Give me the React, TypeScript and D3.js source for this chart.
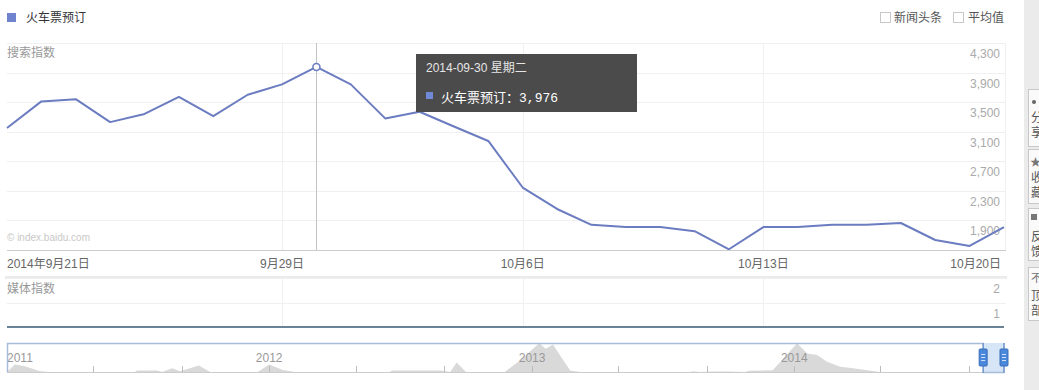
import React, { useEffect } from 'react';
import * as d3 from 'd3';

// 火车票预订 search index, daily
const seriesName = '火车票预订';
const dates = [
  '2014-09-21', '2014-09-22', '2014-09-23', '2014-09-24', '2014-09-25', '2014-09-26',
  '2014-09-27', '2014-09-28', '2014-09-29', '2014-09-30', '2014-10-01', '2014-10-02',
  '2014-10-03', '2014-10-04', '2014-10-05', '2014-10-06', '2014-10-07', '2014-10-08',
  '2014-10-09', '2014-10-10', '2014-10-11', '2014-10-12', '2014-10-13', '2014-10-14',
  '2014-10-15', '2014-10-16', '2014-10-17', '2014-10-18', '2014-10-19', '2014-10-20',
];
const searchValues = [
  3150, 3510, 3540, 3230, 3340, 3570, 3310, 3600, 3740, 3976,
  3740, 3280, 3370, 3170, 2975, 2345, 2055, 1840, 1810, 1810,
  1755, 1510, 1810, 1810, 1840, 1840, 1865, 1635, 1555, 1810,
];
const mediaValues = [
  0, 0, 0, 0, 0, 0, 0, 0, 0, 0, 0, 0, 0, 0, 0,
  0, 0, 0, 0, 0, 0, 0, 0, 0, 0, 0, 0, 0, 0, 0,
];
const searchTicks = [1900, 2300, 2700, 3100, 3500, 3900, 4300];
const mediaTicks = [1, 2];
const xTickDates = ['2014-09-21', '2014-09-29', '2014-10-06', '2014-10-13', '2014-10-20'];
const xTickLabels = ['2014年9月21日', '9月29日', '10月6日', '10月13日', '10月20日'];
const hoverIndex = 9;
const weekdays = ['星期日', '星期一', '星期二', '星期三', '星期四', '星期五', '星期六'];

// navigator (whole history), height in % of the strip
const navDates = [
  '2011-01-01', '2011-01-12', '2011-01-26', '2011-02-16', '2011-03-02', '2011-06-28',
  '2011-07-01', '2011-07-29', '2011-08-05', '2011-08-19', '2011-08-30', '2011-09-25',
  '2011-10-11', '2011-12-16', '2012-01-01', '2012-01-20', '2012-02-06', '2012-06-17',
  '2012-06-20', '2012-08-26', '2012-09-09', '2012-09-18', '2012-10-01', '2012-11-24',
  '2012-12-15', '2013-01-11', '2013-01-20', '2013-01-30', '2013-02-23', '2013-03-09',
  '2013-08-09', '2013-08-13', '2013-08-23', '2013-09-08', '2013-10-03', '2013-10-24',
  '2013-10-31', '2013-12-02', '2014-01-05', '2014-01-19', '2014-02-02', '2014-02-15',
  '2014-03-06', '2014-03-24', '2014-04-30', '2014-10-20',
];
const navValues = [
  0, 26, 20, 3, 0, 0,
  5, 5, 0, 13, 3, 22,
  0, 0, 26, 7, 0, 0,
  5, 5, 0, 33, 0, 0,
  40, 99, 80, 95, 5, 0,
  0, 3, 0, 2, 2, 0,
  4, 6, 99, 64, 59, 36,
  18, 13, 0, 0,
];
const navYears = ['2011', '2012', '2013', '2014'];
const sideLabels = [['分', '享'], ['收', '藏'], ['反', '馈'], ['顶', '部']];

const FONT = "'Liberation Sans', 'Noto Sans CJK SC', sans-serif";
const CJK = "'Noto Sans CJK SC', sans-serif";
const LINE = '#6b7cc0';

const parse = d3.timeParse('%Y-%m-%d');

const App = () => {
  useEffect(() => {
    document.body.style.margin = '0';
    document.body.style.background = '#fff';
  }, []);

  const x = d3.scaleTime()
    .domain([parse(dates[0]), parse(dates[dates.length - 1])])
    .range([7, 1004]);
  const y = d3.scaleLinear().domain([1500, 4300]).range([250, 43]);
  const yMedia = d3.scaleLinear().domain([0, 2]).range([327, 278]);

  const line = d3.line<number>()
    .x((_, i) => x(parse(dates[i])))
    .y(d => y(d));
  const mediaLine = d3.line<number>()
    .x((_, i) => x(parse(dates[i])))
    .y(d => yMedia(d));

  const navX = d3.scaleTime()
    .domain([parse('2011-01-01'), parse(dates[dates.length - 1])])
    .range([7, 1004]);
  const navY = d3.scaleLinear().domain([0, 100]).range([372, 343]);
  const navArea = d3.area<number>()
    .x((_, i) => navX(parse(navDates[i])))
    .y0(372)
    .y1(d => navY(d));
  const navTicks = navX.ticks(d3.timeMonth.every(4));

  const hx = x(parse(dates[hoverIndex]));
  const hy = y(searchValues[hoverIndex]);
  const hDate = parse(dates[hoverIndex]);
  const selX0 = navX(parse(dates[0]));
  const selX1 = navX(parse(dates[dates.length - 1]));

  const gridDates = xTickDates.slice(1, 4);

  return (
    <svg width={1039} height={390} style={{ display: 'block', fontFamily: FONT }}>
      {/* legend */}
      <rect x={7} y={13} width={9} height={9} fill="#6f83cf" />
      <text x={26} y={22} fontSize={12} fill="#333" fontFamily={CJK}>{seriesName}</text>

      <rect x={880.5} y={12.5} width={10} height={10} fill="#fff" stroke="#c8c8c8" />
      <text x={894} y={22} fontSize={12} fill="#555" fontFamily={CJK}>新闻头条</text>
      <rect x={953.5} y={12.5} width={10} height={10} fill="#fff" stroke="#c8c8c8" />
      <text x={968} y={22} fontSize={12} fill="#555" fontFamily={CJK}>平均值</text>

      {/* search panel */}
      <line x1={7} x2={1006} y1={43.5} y2={43.5} stroke="#eee" />
      <line x1={1005.5} x2={1005.5} y1={43} y2={250} stroke="#f0f0f0" />
      {searchTicks.map(t => (
        <g key={t}>
          <line x1={7} x2={1006} y1={Math.round(y(t)) + 0.5} y2={Math.round(y(t)) + 0.5} stroke="#f0f0f0" />
          <text x={1000} y={y(t) + 15} fontSize={12} fill="#aaa" textAnchor="end">{d3.format(',')(t)}</text>
        </g>
      ))}
      {gridDates.map(d => (
        <line key={d} x1={Math.round(x(parse(d))) + 0.5} x2={Math.round(x(parse(d))) + 0.5}
          y1={43} y2={250} stroke="#f0f0f0" />
      ))}
      <text x={7} y={57} fontSize={12} fill="#999" fontFamily={CJK}>搜索指数</text>
      <text x={7} y={241} fontSize={10} fill="#c8c8c8">© index.baidu.com</text>

      <line x1={Math.round(hx) + 0.5} x2={Math.round(hx) + 0.5} y1={43} y2={250} stroke="#c4c4c4" />
      <path d={line(searchValues) || ''} fill="none" stroke={LINE} strokeWidth={2} strokeLinejoin="round" />
      <circle cx={hx} cy={hy} r={3.5} fill="#fff" stroke={LINE} strokeWidth={1.5} />

      <line x1={7} x2={1006} y1={250.5} y2={250.5} stroke="#ccc" />
      {xTickDates.map((d, i) => (
        <text key={d}
          x={i === 0 ? 7 : i === xTickDates.length - 1 ? 1001 : x(parse(d))}
          y={268} fontSize={12} fill="#666"
          textAnchor={i === 0 ? 'start' : i === xTickDates.length - 1 ? 'end' : 'middle'}>
          {xTickLabels[i]}
        </text>
      ))}

      {/* tooltip */}
      <rect x={416} y={54} width={221} height={58} fill="#4b4b4b" />
      <text x={426} y={72} fontSize={12} fill="#e6e6e6">
        {d3.timeFormat('%Y-%m-%d')(hDate)} <tspan fontFamily={CJK}>{weekdays[hDate.getDay()]}</tspan>
      </text>
      <rect x={426} y={92} width={7} height={7} fill="#7088d8" />
      <text x={441} y={102} fontSize={13} fill="#fff">
        <tspan fontFamily={CJK}>{seriesName}：</tspan>
        <tspan fontFamily="'Liberation Mono', monospace">{d3.format(',')(searchValues[hoverIndex])}</tspan>
      </text>

      {/* separator */}
      <rect x={5} y={276} width={1002} height={3} fill="#ebebeb" />

      {/* media panel */}
      {mediaTicks.map(t => (
        <g key={t}>
          <line x1={7} x2={1006} y1={Math.round(yMedia(t)) + 0.5} y2={Math.round(yMedia(t)) + 0.5} stroke="#f0f0f0" />
          <text x={1000} y={yMedia(t) + 15} fontSize={12} fill="#aaa" textAnchor="end">{t}</text>
        </g>
      ))}
      {gridDates.map(d => (
        <line key={d} x1={Math.round(x(parse(d))) + 0.5} x2={Math.round(x(parse(d))) + 0.5}
          y1={279} y2={327} stroke="#f0f0f0" />
      ))}
      <text x={7} y={293} fontSize={12} fill="#999" fontFamily={CJK}>媒体指数</text>
      <path d={mediaLine(mediaValues) || ''} fill="none" stroke="#6a8296" strokeWidth={2} />

      {/* navigator */}
      <path d={navArea(navValues) || ''} fill="#d9d9d9" />
      <line x1={7} x2={1004} y1={372.5} y2={372.5} stroke="#ccc" />
      {navTicks.filter(t => navX(t) > 10).map(t => (
        <line key={+t} x1={Math.round(navX(t)) + 0.5} x2={Math.round(navX(t)) + 0.5} y1={366} y2={372} stroke="#bbb" />
      ))}
      {navYears.map((yr, i) => (
        <text key={yr} x={i === 0 ? 7 : navX(parse(`${yr}-01-01`))} y={362} fontSize={12} fill="#999"
          textAnchor={i === 0 ? 'start' : 'middle'}>{yr}</text>
      ))}
      <rect x={selX0} y={343} width={selX1 - selX0} height={29} fill="#cfe2f6" fillOpacity={0.85} />
      <path d={`M7.5,372 L7.5,343.5 L${selX0},343.5 L${selX0},372.5 L${selX1},372.5 L${selX1},343`}
        fill="none" stroke="#a6bddc" strokeWidth={1.5} />
      <line x1={selX0} x2={selX0} y1={343} y2={373} stroke="#5b86c4" />
      <line x1={selX1} x2={selX1} y1={343} y2={373} stroke="#5b86c4" />
      {[selX0, selX1].map((hxp, k) => (
        <g key={k}>
          <rect x={hxp - 4} y={349} width={8} height={17} rx={1} fill="#4a88dc" stroke="#3a6db8" />
          {[354, 357, 360].map(ly => (
            <line key={ly} x1={hxp - 2} x2={hxp + 2} y1={ly + 0.5} y2={ly + 0.5} stroke="#cfe0f7" />
          ))}
        </g>
      ))}

      {/* right side bar */}
      <rect x={1024} y={0} width={15} height={390} fill="#ebebeb" />
      {[[89, 146], [149, 203], [208, 260], [267, 320]].map(([t, b], i) => (
        <g key={i}>
          <rect x={1028.5} y={t + 0.5} width={20} height={b - t} fill="#fafafa" stroke="#c8c8c8" />
          <text x={1031} y={t + 33} fontSize={12} fill="#555" fontFamily={CJK}>{sideLabels[i][0]}</text>
          <text x={1031} y={t + 48} fontSize={12} fill="#555" fontFamily={CJK}>{sideLabels[i][1]}</text>
        </g>
      ))}
      <circle cx={1034} cy={102} r={2} fill="#666" />
      <text x={1030} y={166} fontSize={11} fill="#777">★</text>
      <rect x={1031} y={214} width={6} height={6} fill="#777" />
      <text x={1031} y={282} fontSize={11} fill="#777" fontFamily={CJK}>不</text>
    </svg>
  );
};

export default App;
